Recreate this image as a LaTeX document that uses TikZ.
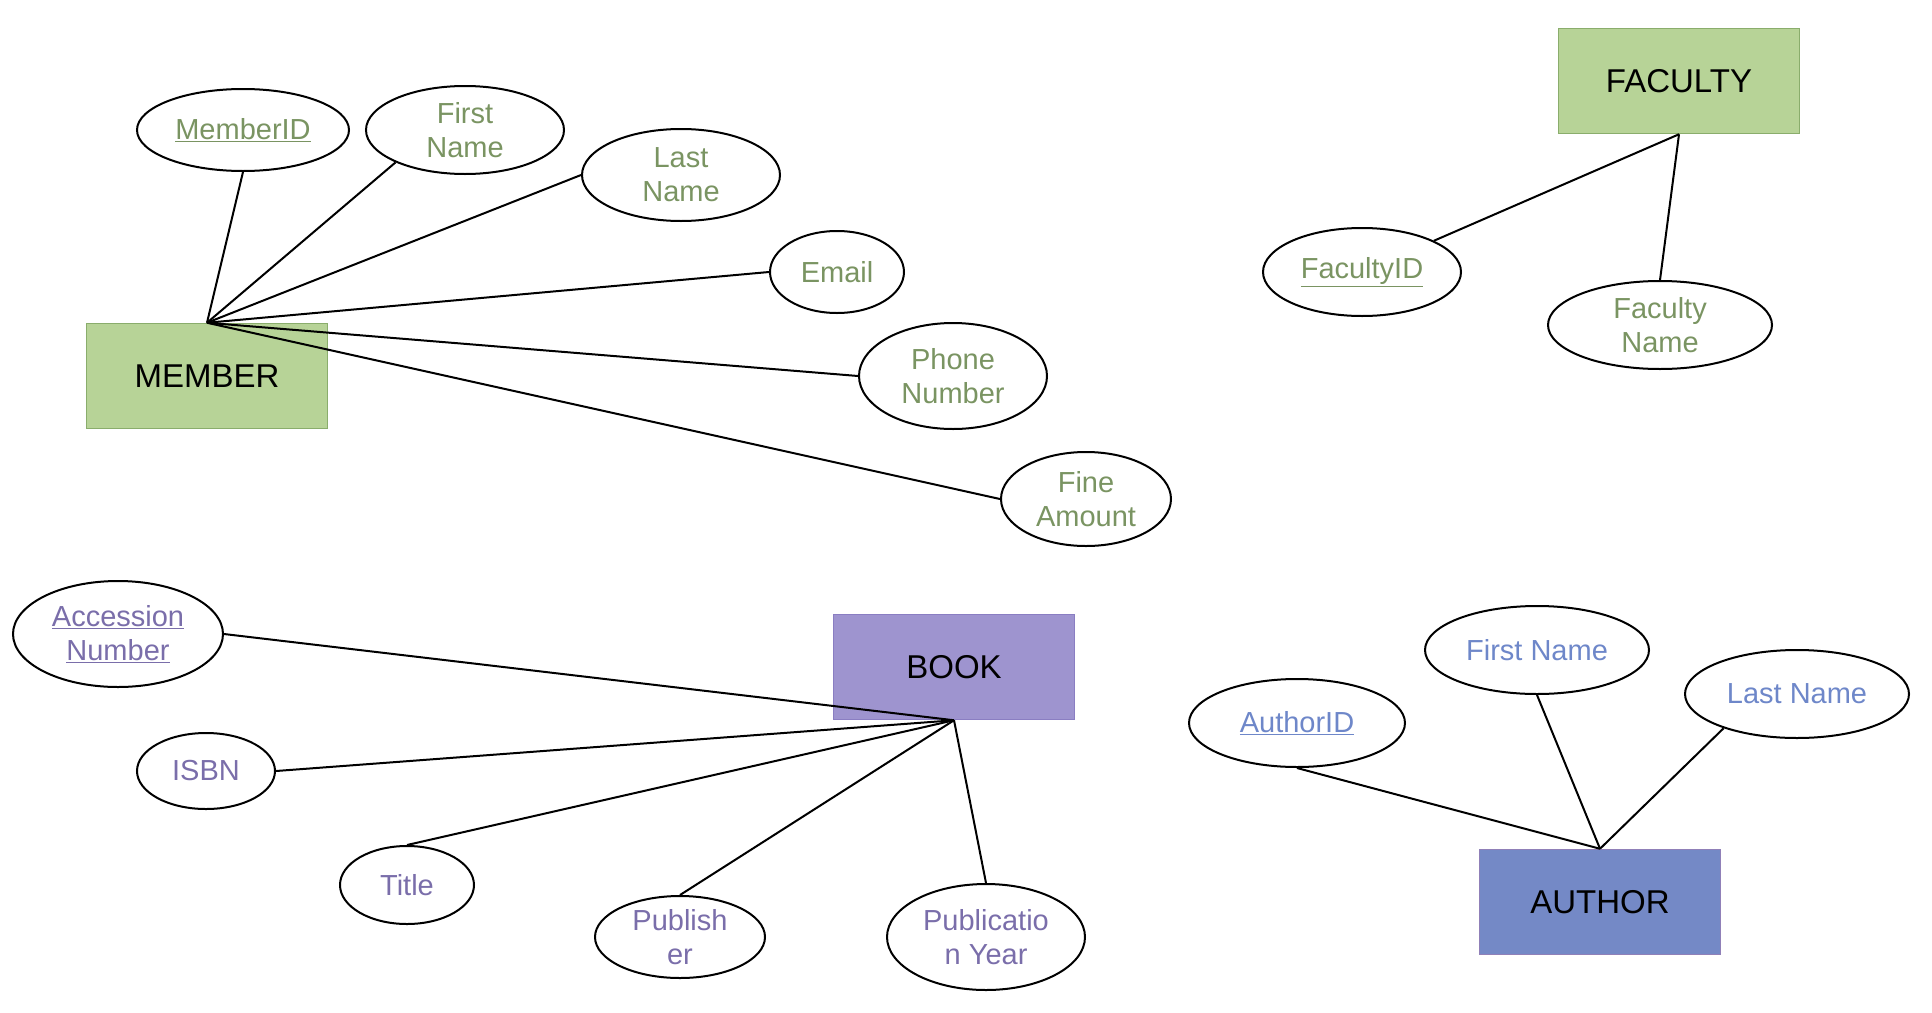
\documentclass[tikz,border=0pt]{standalone}
\usepackage{fontspec}
\setmainfont{Liberation Sans}
\usepackage{tikz}
\usetikzlibrary{shapes.geometric}
\definecolor{memgreen}{HTML}{B7D397}
\definecolor{memline}{HTML}{8AAD6C}
\definecolor{memtext}{HTML}{7A9462}
\definecolor{bookfill}{HTML}{9E94CF}
\definecolor{bookline}{HTML}{8A7EC2}
\definecolor{booktext}{HTML}{7A6EAA}
\definecolor{authfill}{HTML}{7489C6}
\definecolor{authline}{HTML}{9080B8}
\definecolor{authtext}{HTML}{6E87C9}
\tikzset{
  entity/.style={draw, line width=1.5pt, minimum width=241pt, minimum height=105pt,
    font=\fontsize{33}{38}\selectfont},
  attr/.style={draw, ellipse, line width=2pt, inner sep=0pt, align=center,
    font=\fontsize{29}{34}\selectfont},
  link/.style={line width=2pt},
}
\newcommand{\keyattr}[1]{\underline{#1}}

\begin{document}
\begin{tikzpicture}[x=1pt,y=-1pt]
    \useasboundingbox (0,0) rectangle (1932,1012);
    % member
    \node[entity, fill=memgreen, draw=memline] (member) at (207,376) {MEMBER};
    \node[attr, minimum width=212pt, minimum height=82pt, text=memtext] (memid) at (243,130) {\keyattr{MemberID}};
    \node[attr, minimum width=198pt, minimum height=88pt, text=memtext] (memfirst) at (465,130) {First\\Name};
    \node[attr, minimum width=198pt, minimum height=92pt, text=memtext] (memlast) at (681,175) {Last\\Name};
    \node[attr, minimum width=134pt, minimum height=82pt, text=memtext] (mememail) at (837,272) {Email};
    \node[attr, minimum width=188pt, minimum height=106pt, text=memtext] (memphone) at (953,376) {Phone\\Number};
    \node[attr, minimum width=170pt, minimum height=94pt, text=memtext] (memfine) at (1086,499) {Fine\\Amount};
    \draw[link] (member.north) -- (memid.south);
    \draw[link] (member.north) -- (memfirst.205);
    \draw[link] (member.north) -- (memlast.west);
    \draw[link] (member.north) -- (mememail.west);
    \draw[link] (member.north) -- (memphone.west);
    \draw[link] (member.north) -- (memfine.west);
    % faculty
    \node[entity, fill=memgreen, draw=memline] (faculty) at (1679,81) {FACULTY};
    \node[attr, minimum width=198pt, minimum height=88pt, text=memtext] (facid) at (1362,272) {\keyattr{FacultyID}};
    \node[attr, minimum width=224pt, minimum height=88pt, text=memtext] (facname) at (1660,325) {Faculty\\Name};
    \draw[link] (faculty.south) -- (facid);
    \draw[link] (faculty.south) -- (facname.north);
    % book
    \node[entity, fill=bookfill, draw=bookline] (book) at (954,667) {BOOK};
    \node[attr, minimum width=210pt, minimum height=106pt, text=booktext] (bkacc) at (118,634) {\keyattr{Accession}\\\keyattr{Number}};
    \node[attr, minimum width=138pt, minimum height=76pt, text=booktext] (bkisbn) at (206,771) {ISBN};
    \node[attr, minimum width=134pt, minimum height=78pt, text=booktext] (bktitle) at (407,885) {Title};
    \node[attr, minimum width=170pt, minimum height=82pt, text=booktext] (bkpub) at (680,937) {Publish\\er};
    \node[attr, minimum width=198pt, minimum height=106pt, text=booktext] (bkyear) at (986,937) {Publicatio\\n Year};
    \draw[link] (book.south) -- (bkacc.east);
    \draw[link] (book.south) -- (bkisbn.east);
    \draw[link] (book.south) -- (bktitle.north);
    \draw[link] (book.south) -- (bkpub.north);
    \draw[link] (book.south) -- (bkyear.north);
    % author
    \node[entity, fill=authfill, draw=authline] (author) at (1600,902) {AUTHOR};
    \node[attr, minimum width=216pt, minimum height=88pt, text=authtext] (auid) at (1297,723) {\keyattr{AuthorID}};
    \node[attr, minimum width=224pt, minimum height=88pt, text=authtext] (aufirst) at (1537,650) {First Name};
    \node[attr, minimum width=224pt, minimum height=88pt, text=authtext] (aulast) at (1797,694) {Last Name};
    \draw[link] (author.north) -- (auid.south);
    \draw[link] (author.north) -- (aufirst.south);
    \draw[link] (author.north) -- (aulast.205);
\end{tikzpicture}
\end{document}
